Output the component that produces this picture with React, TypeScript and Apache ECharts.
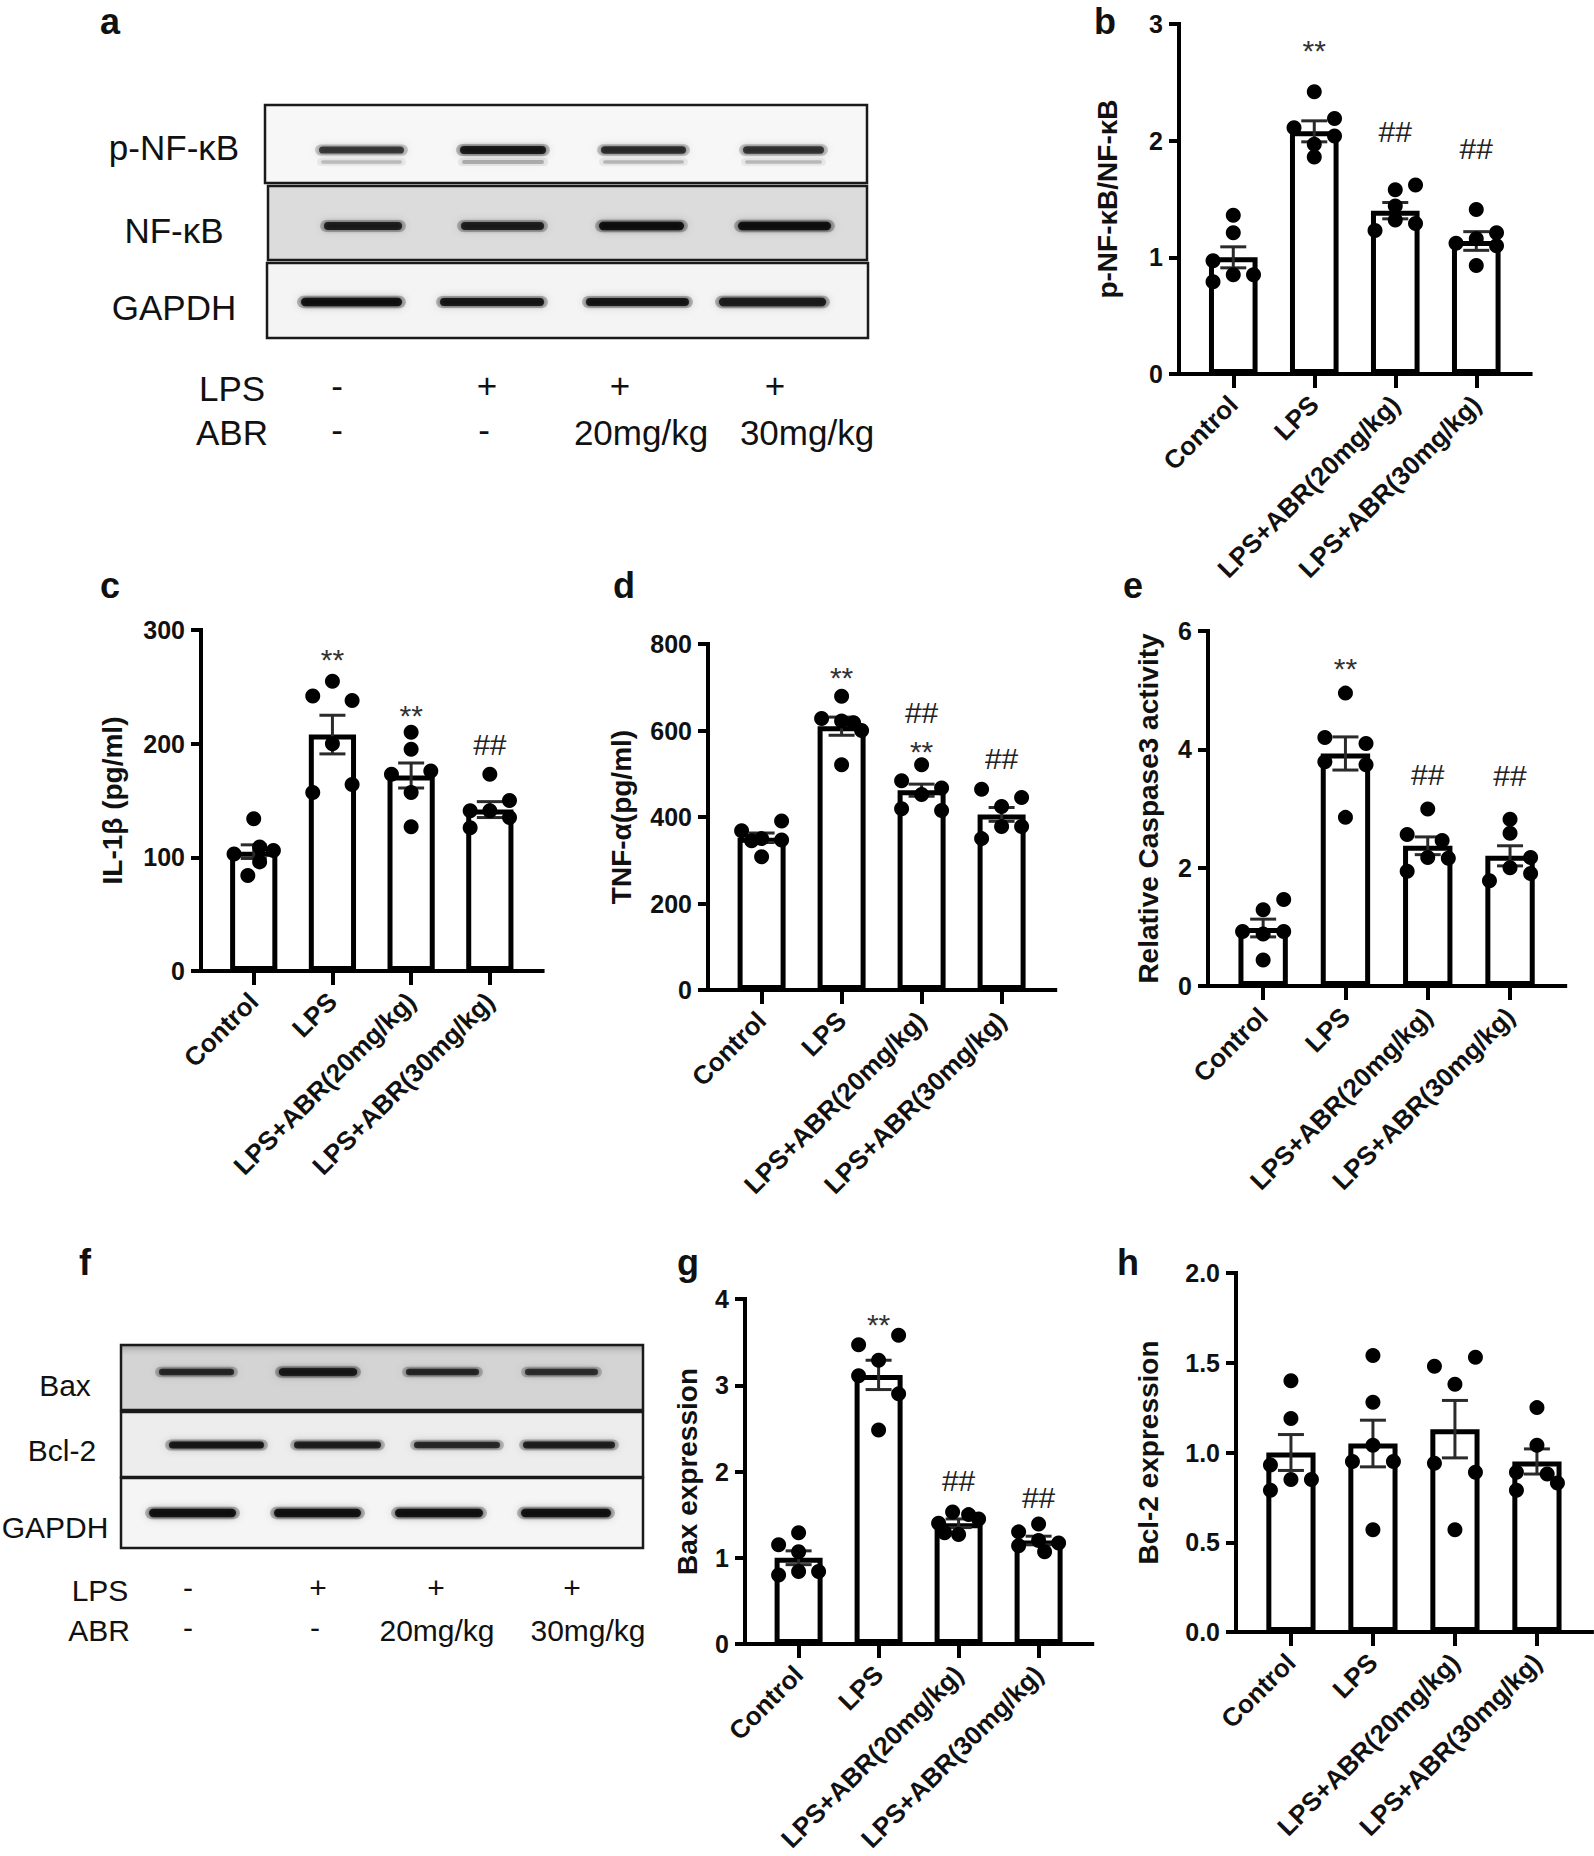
import React, { useEffect, useRef } from 'react';
import * as echarts from 'echarts';

// ---------------- DATA ----------------
const groups = ['Control', 'LPS', 'LPS+ABR(20mg/kg)', 'LPS+ABR(30mg/kg)'];

// b: p-NF-κB/NF-κB
const bTicks = [0, 1, 2, 3];
const bMean = [1.0, 2.08, 1.4, 1.14];
const bSem = [0.09, 0.09, 0.07, 0.08];
const bDots = [
  [1.36, 1.21, 0.97, 0.85, 0.85, 0.79],
  [2.42, 2.19, 2.11, 2.04, 1.97, 1.86],
  [1.62, 1.58, 1.44, 1.32, 1.29, 1.23],
  [1.41, 1.21, 1.16, 1.12, 1.1, 0.93],
];
const bCols = [[0, 0, -1, 0, 1, -1], [0, 1, -1, 1, 0, 0], [1, 0, 0, 0, 1, -1], [0, 1, 0, -1, 1, 0]];
const bMarks: [number, number, string][] = [[1, 2.83, '**'], [2, 2.08, '##'], [3, 1.93, '##']];

// c: IL-1β
const cTicks = [0, 100, 200, 300];
const cMean = [105, 208, 172, 142];
const cSem = [6, 17, 11, 7];
const cDots = [
  [134, 109, 106, 103, 96, 84],
  [255, 242, 238, 200, 164, 157],
  [210, 195, 176, 173, 157, 127],
  [173, 150, 141, 141, 135, 126],
];
const cCols = [[0, 0.3, 1, -1, 0.3, -0.3], [0, -1, 1, 0, 1, -1], [0, 0, 1, -1, 0, 0], [0, 1, -1, 0, 1, -1]];
const cMarks: [number, number, string][] = [[1, 280, '**'], [2, 231, '**'], [3, 199, '##']];

// d: TNF-α
const dTicks = [0, 200, 400, 600, 800];
const dMean = [352, 610, 462, 406];
const dSem = [11, 21, 14, 16];
const dDots = [
  [391, 368, 350, 347, 345, 308],
  [679, 628, 622, 618, 600, 521],
  [521, 484, 467, 452, 419, 415],
  [464, 445, 424, 378, 378, 350],
];
const dCols = [[1, -1, 0, 1, -0.5, 0], [0, -1, 0, 0.6, 1, 0], [0, -1, 1, 0, -1, 1], [-1, 1, 0, 0, 1, -1]];
const dMarks: [number, number, string][] = [[1, 739, '**'], [2, 642, '##'], [2, 568, '**'], [3, 535, '##']];

// e: Caspase3
const eTicks = [0, 2, 4, 6];
const eMean = [0.98, 3.93, 2.37, 2.2];
const eSem = [0.15, 0.28, 0.15, 0.17];
const eDots = [
  [1.46, 1.29, 0.92, 0.88, 0.92, 0.44],
  [4.95, 4.2, 4.1, 3.79, 3.74, 2.85],
  [2.99, 2.56, 2.46, 2.17, 2.16, 1.94],
  [2.82, 2.58, 2.17, 2.0, 1.9, 1.78],
];
const eCols = [[1, 0, -1, 0, 1, 0], [0, -1, 1, -1, 1, 0], [0, -1, 0.7, 0, 1, -1], [0, 0, 1, 0, 1, -1]];
const eMarks: [number, number, string][] = [[1, 5.49, '**'], [2, 3.57, '##'], [3, 3.55, '##']];

// g: Bax
const gTicks = [0, 1, 2, 3, 4];
const gMean = [1.0, 3.12, 1.4, 1.2];
const gSem = [0.08, 0.17, 0.05, 0.05];
const gDots = [
  [1.29, 1.15, 1.07, 0.84, 0.84, 0.8],
  [3.58, 3.47, 3.29, 3.11, 2.9, 2.48],
  [1.53, 1.5, 1.45, 1.4, 1.29, 1.27],
  [1.39, 1.3, 1.2, 1.17, 1.14, 1.07],
];
const gCols = [[0, -1, 0, 0, 1, -1], [1, -1, 0, -1, 1, 0], [-0.3, 0.5, 1, -1, -0.7, 0], [0, -1, 0, 1, -1, 0.3]];
const gMarks: [number, number, string][] = [[1, 3.78, '**'], [2, 1.89, '##'], [3, 1.7, '##']];

// h: Bcl-2
const hTicks = [0, 0.5, 1.0, 1.5, 2.0];
const hMean = [1.0, 1.05, 1.13, 0.95];
const hSem = [0.1, 0.13, 0.16, 0.07];
const hDots = [
  [1.4, 1.19, 0.93, 0.85, 0.85, 0.79],
  [1.54, 1.28, 1.04, 0.95, 0.95, 0.57],
  [1.53, 1.48, 1.38, 0.94, 0.89, 0.57],
  [1.25, 1.04, 0.88, 0.89, 0.83, 0.79],
];
const hCols = [[0, 0, -1, 0, 1, -1], [0, 0, 0, -1, 1, 0], [1, -1, 0, -1, 1, 0], [0, 0, 0.5, -1, 1, -1]];
const hMarks: [number, number, string][] = [];

// Western blots: labels and band intensities (0..1)
const blotALabels = ['p-NF-κB', 'NF-κB', 'GAPDH'];
const blotAIntensity = [
  [0.72, 0.9, 0.78, 0.75],
  [0.85, 0.85, 0.95, 0.95],
  [0.95, 0.92, 0.92, 0.97],
];
const blotFLabels = ['Bax', 'Bcl-2', 'GAPDH'];
const blotFIntensity = [
  [0.8, 1.0, 0.8, 0.75],
  [0.9, 0.85, 0.8, 0.85],
  [0.95, 0.95, 0.95, 0.95],
];
const lpsRow = ['-', '+', '+', '+'];
const abrRow = ['-', '-', '20mg/kg', '30mg/kg'];
const panelLetters = ['a', 'b', 'c', 'd', 'e', 'f', 'g', 'h'];

// ---------------- LAYOUT ----------------
const FONT = '"Liberation Sans", Arial, Helvetica, sans-serif';
const W = 1594;
const H = 1856;

const letterPos: [number, number][] = [
  [110, 21], [1105, 21], [110, 585], [624, 585], [1133, 585], [85, 1262], [688, 1262], [1128, 1262],
];

const panels = [
  { ticks: bTicks, mean: bMean, sem: bSem, dots: bDots, cols: bCols, marks: bMarks, name: 'p-NF-κB/NF-κB', dec: 0,
    left: 1179, top: 24, zero: 374, spacing: 81, nameGap: 58 },
  { ticks: cTicks, mean: cMean, sem: cSem, dots: cDots, cols: cCols, marks: cMarks, name: 'IL-1β (pg/ml)', dec: 0,
    left: 201, top: 630, zero: 971, spacing: 78.7, nameGap: 75 },
  { ticks: dTicks, mean: dMean, sem: dSem, dots: dDots, cols: dCols, marks: dMarks, name: 'TNF-α(pg/ml)', dec: 0,
    left: 708, top: 644, zero: 990, spacing: 80, nameGap: 73 },
  { ticks: eTicks, mean: eMean, sem: eSem, dots: eDots, cols: eCols, marks: eMarks, name: 'Relative Caspase3 activity', dec: 0,
    left: 1208, top: 631, zero: 986, spacing: 82.3, nameGap: 46 },
  { ticks: gTicks, mean: gMean, sem: gSem, dots: gDots, cols: gCols, marks: gMarks, name: 'Bax expression', dec: 0,
    left: 745, top: 1299, zero: 1644, spacing: 80, nameGap: 44 },
  { ticks: hTicks, mean: hMean, sem: hSem, dots: hDots, cols: hCols, marks: hMarks, name: 'Bcl-2 expression', dec: 1,
    left: 1236, top: 1273, zero: 1632, spacing: 82, nameGap: 74 },
];

const blotA = {
  fontSize: 35,
  labelX: 174,
  labelY: [147, 230, 307],
  rows: [
    { y: 150, box: [265, 105, 602, 78], bg: '#f7f7f7', t: 10, doublet: true,
      lanes: [[313, 410], [454, 552], [595, 692], [737, 830]] },
    { y: 226, box: [268, 186, 599, 74], bg: '#dcdcdc', t: 10, doublet: false,
      lanes: [[318, 408], [455, 550], [593, 690], [732, 837]] },
    { y: 302, box: [267, 263, 601, 75], bg: '#f4f4f4', t: 10, doublet: false,
      lanes: [[295, 408], [434, 550], [580, 695], [713, 832]] },
  ],
  lpsLabel: [232, 388],
  abrLabel: [232, 432],
  lpsX: [337, 487, 620, 775],
  abrX: [337, 484, 641, 807],
};

const blotF = {
  fontSize: 30,
  labelX: [65, 62, 55],
  labelY: [1385, 1450, 1527],
  rows: [
    { y: 1372, box: [121, 1345, 522, 65], bg: '#d4d4d4', t: 9, doublet: false,
      lanes: [[153, 240], [273, 363], [400, 485], [519, 604]] },
    { y: 1445, box: [121, 1412, 522, 65], bg: '#ededed', t: 9, doublet: false,
      lanes: [[163, 270], [288, 387], [408, 506], [517, 621]] },
    { y: 1513, box: [121, 1478, 522, 70], bg: '#f5f5f5', t: 10, doublet: false,
      lanes: [[143, 242], [268, 367], [389, 489], [515, 617]] },
  ],
  lpsLabel: [100, 1590],
  abrLabel: [99, 1630],
  lpsX: [188, 318, 436, 572],
  abrX: [188, 315, 437, 588],
};

const JITTER = 0.25;
const XMIN = -0.67;
const XMAX = 3.67;

function bandElements(x1: number, x2: number, y: number, t: number, d: number): any[] {
  const th = t * (0.6 + 0.45 * d);
  return [
    { type: 'rect', z: 3, shape: { x: x1 + 2, y: y - th / 2 - 1, width: x2 - x1 - 4, height: th + 2, r: (th + 2) / 2 },
      style: { fill: `rgba(0,0,0,${(d * 0.25).toFixed(3)})`, shadowBlur: 8, shadowColor: `rgba(0,0,0,${(d * 0.5).toFixed(3)})` } },
    { type: 'rect', z: 5, shape: { x: x1 + 6, y: y - th / 2 + 1, width: x2 - x1 - 12, height: th - 2, r: (th - 2) / 2 },
      style: { fill: `rgba(8,8,8,${(d * 0.85).toFixed(3)})`, shadowBlur: 4, shadowColor: `rgba(0,0,0,${(d * 0.8).toFixed(3)})` } },
  ];
}

function text(x: number, y: number, s: string, size: number, weight = 'normal'): any {
  return {
    type: 'text', x, y, z: 10,
    style: { text: s, fontSize: size, fontWeight: weight, fontFamily: FONT, fill: '#111', align: 'center', verticalAlign: 'middle' },
  };
}

function blotGraphics(blot: any, labels: string[], intens: number[][], isF: boolean): any[] {
  const out: any[] = [];
  blot.rows.forEach((row: any, r: number) => {
    const [bx, by, bw, bh] = row.box;
    out.push({ type: 'rect', z: 1, shape: { x: bx, y: by, width: bw, height: bh }, style: { fill: row.bg } });
    if (isF && r === 0) {
      out.push({
        type: 'rect', z: 2, shape: { x: bx, y: by, width: bw, height: 12 },
        style: { fill: new echarts.graphic.LinearGradient(0, 0, 0, 1, [
          { offset: 0, color: '#9a9a9a' }, { offset: 1, color: 'rgba(212,212,212,0)' }]) },
      });
    }
    row.lanes.forEach((ln: number[], k: number) => {
      const d = intens[r][k];
      out.push(...bandElements(ln[0], ln[1], row.y, row.t, d));
      if (row.doublet) out.push(...bandElements(ln[0] + 2, ln[1] - 2, row.y + 12, 8, d * 0.3));
    });
    out.push({ type: 'rect', z: 8, shape: { x: bx, y: by, width: bw, height: bh },
      style: { fill: 'none', stroke: '#1a1a1a', lineWidth: 2.5 } });
    const lx = Array.isArray(blot.labelX) ? blot.labelX[r] : blot.labelX;
    out.push(text(lx, blot.labelY[r], labels[r], blot.fontSize));
  });
  out.push(text(blot.lpsLabel[0], blot.lpsLabel[1], 'LPS', blot.fontSize));
  out.push(text(blot.abrLabel[0], blot.abrLabel[1], 'ABR', blot.fontSize));
  lpsRow.forEach((s, k) => out.push(text(blot.lpsX[k], blot.lpsLabel[1] - 3, s, blot.fontSize)));
  abrRow.forEach((s, k) => out.push(text(blot.abrX[k], blot.abrLabel[1] - (s.length > 1 ? 0 : 3), s, blot.fontSize)));
  return out;
}

function buildOption(): any {
  const grid: any[] = [];
  const xAxis: any[] = [];
  const yAxis: any[] = [];
  const series: any[] = [];

  panels.forEach((p, i) => {
    const width = (XMAX - XMIN) * p.spacing;
    grid.push({ left: p.left, top: p.top, width, height: p.zero - p.top, containLabel: false, outerBoundsMode: 'none' });
    xAxis.push({
      type: 'value', gridIndex: i, min: XMIN, max: XMAX,
      splitLine: { show: false },
      axisLine: { show: true, onZero: false, lineStyle: { color: '#000', width: 4, cap: 'square' } },
      axisTick: { show: true, customValues: [0, 1, 2, 3], length: 14, lineStyle: { color: '#000', width: 4 } },
      axisLabel: {
        show: true, customValues: [0, 1, 2, 3], formatter: (v: number) => groups[Math.round(v)] ?? '',
        rotate: 45, fontSize: 26, fontWeight: 'bold', fontFamily: FONT, color: '#111', margin: 26,
      },
    });
    const tmax = p.ticks[p.ticks.length - 1];
    const tint = p.ticks[1] - p.ticks[0];
    yAxis.push({
      type: 'value', gridIndex: i, min: p.ticks[0], max: tmax, interval: tint,
      name: p.name, nameLocation: 'middle', nameGap: p.nameGap,
      nameTextStyle: { fontSize: 28, fontWeight: 'bold', fontFamily: FONT, color: '#111' },
      splitLine: { show: false },
      axisLine: { show: true, onZero: false, lineStyle: { color: '#000', width: 4, cap: 'square' } },
      axisTick: { show: true, length: 10, lineStyle: { color: '#000', width: 4 } },
      axisLabel: {
        fontSize: 25, fontWeight: 'bold', fontFamily: FONT, color: '#111', margin: 16,
        formatter: (v: number) => v.toFixed(p.dec),
      },
    });
    series.push({
      type: 'bar', xAxisIndex: i, yAxisIndex: i, z: 2,
      data: p.mean.map((m, k) => [k, m]),
      barWidth: 0.6 * p.spacing,
      itemStyle: { color: '#fff', borderColor: '#000', borderWidth: 5 },
      silent: true,
    });
    series.push({
      type: 'custom', xAxisIndex: i, yAxisIndex: i, z: 3,
      data: p.mean.map((m, k) => [k, m, p.sem[k]]),
      encode: { x: 0, y: 1 },
      renderItem: (params: any, api: any) => {
        const x = api.value(0), m = api.value(1), s = api.value(2);
        const t = api.coord([x, m + s]);
        const b = api.coord([x, m - s]);
        const cap = 13;
        const st = { stroke: '#2a2a2a', lineWidth: 3 };
        return {
          type: 'group',
          children: [
            { type: 'line', shape: { x1: t[0], y1: t[1], x2: b[0], y2: b[1] }, style: st },
            { type: 'line', shape: { x1: t[0] - cap, y1: t[1], x2: t[0] + cap, y2: t[1] }, style: st },
            { type: 'line', shape: { x1: b[0] - cap, y1: b[1], x2: b[0] + cap, y2: b[1] }, style: st },
          ],
        };
      },
      silent: true,
    });
    const pts: number[][] = [];
    p.dots.forEach((arr, k) => arr.forEach((v, j) => pts.push([k + p.cols[k][j] * JITTER, v])));
    series.push({
      type: 'scatter', xAxisIndex: i, yAxisIndex: i, z: 4,
      data: pts, symbol: 'circle', symbolSize: 15,
      itemStyle: { color: '#000', opacity: 1 }, silent: true,
    });
    if (p.marks.length) {
      const marks = p.marks;
      series.push({
        type: 'custom', xAxisIndex: i, yAxisIndex: i, z: 5,
        data: marks.map((m) => [m[0], m[1]]),
        encode: { x: 0, y: 1 },
        renderItem: (params: any, api: any) => {
          const pt = api.coord([api.value(0), api.value(1)]);
          const txt = marks[params.dataIndex][2];
          return {
            type: 'text', x: pt[0], y: pt[1] + (txt === '**' ? 7 : 0),
            style: { text: txt, fontSize: 30, fontFamily: FONT, fill: txt === '**' ? '#333' : '#222', align: 'center', verticalAlign: 'middle' },
          };
        },
        silent: true,
      });
    }
  });

  const elements: any[] = [];
  elements.push(...blotGraphics(blotA, blotALabels, blotAIntensity, false));
  elements.push(...blotGraphics(blotF, blotFLabels, blotFIntensity, true));
  panelLetters.forEach((l, k) => elements.push(text(letterPos[k][0], letterPos[k][1], l, 36, 'bold')));

  return {
    animation: false,
    backgroundColor: '#ffffff',
    textStyle: { fontFamily: FONT },
    grid, xAxis, yAxis, series,
    graphic: { elements },
  };
}

export default function App() {
  const ref = useRef<HTMLDivElement>(null);
  useEffect(() => {
    if (!ref.current) return;
    const chart = echarts.init(ref.current, null, { renderer: 'svg', width: W, height: H });
    chart.setOption(buildOption());
    return () => chart.dispose();
  }, []);
  return (
    <div
      ref={ref}
      style={{ position: 'absolute', left: 0, top: 0, width: W, height: H, background: '#fff' }}
    />
  );
}
